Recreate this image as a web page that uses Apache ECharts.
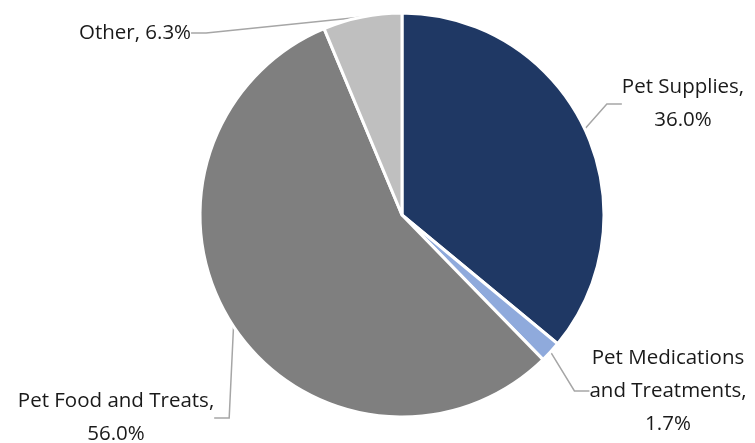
<!DOCTYPE html>
<html><head><meta charset="utf-8">
<script src="https://cdn.jsdelivr.net/npm/echarts@6/dist/echarts.min.js"></script>
<style>html,body{margin:0;padding:0;background:#fff}#c{width:755px;height:443px}</style>
</head><body><div id="c"></div>
<script>
const categories = ['Pet Supplies', 'Pet Medications and Treatments', 'Pet Food and Treats', 'Other'];
const labelTexts = ['Pet Supplies,\n36.0%', 'Pet Medications\nand Treatments,\n1.7%', 'Pet Food and Treats,\n56.0%', 'Other, 6.3%'];
const values = [36.0, 1.7, 56.0, 6.3];
const colors = ['#1F3864', '#8FAADC', '#7F7F7F', '#BFBFBF'];
const labelPos = [[683, 104], [668, 391], [116, 418], [135, 33]];

const chart = echarts.init(document.getElementById('c'));
chart.setOption({
  animation: false,
  series: [{
    type: 'pie',
    center: [402, 215],
    radius: 202,
    startAngle: 90,
    clockwise: true,
    data: categories.map((n, i) => ({
      name: n, value: values[i],
      itemStyle: { color: colors[i] },
      label: { formatter: labelTexts[i] }
    })),
    itemStyle: { borderColor: '#fff', borderWidth: 3 },
    label: {
      show: true,
      fontFamily: 'Open Sans',
      fontSize: 20.5,
      lineHeight: 33,
      color: '#1a1a1a',
      align: 'center',
      overflow: 'none'
    },
    labelLine: { show: true, length: 15, length2: 15, lineStyle: { color: '#A6A6A6', width: 1.5 } },
    labelLayout: function (p) {
      const i = p.dataIndex;
      return { x: labelPos[i][0], y: labelPos[i][1], align: 'center', verticalAlign: 'middle' };
    }
  }]
});
</script></body></html>
